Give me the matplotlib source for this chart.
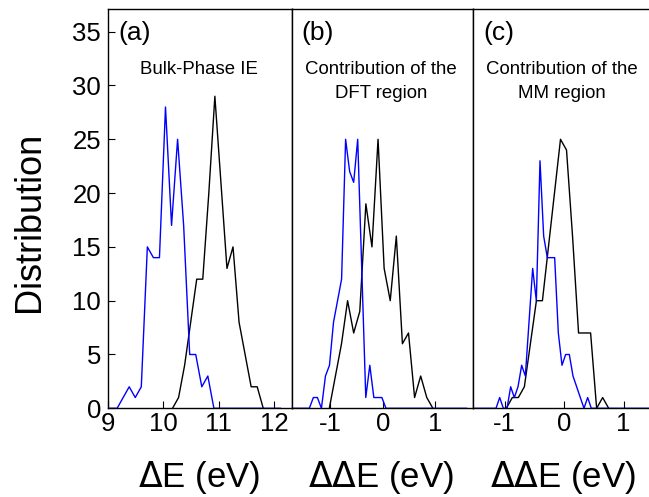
import numpy as np
import matplotlib.pyplot as plt

plt.rcParams['font.family'] = ['Liberation Sans', 'DejaVu Sans']
plt.rcParams['axes.unicode_minus'] = False

# panel (a): bulk-phase IE, counts per bin (bin start, bin width, counts)
a_blue_start, a_blue_step = 8.946, 0.1093
a_blue = [0, 0, 0, 1, 2, 1, 2, 15, 14, 14, 28, 17, 25, 17, 5, 5, 2, 3, 0,
          0, 0, 0, 0, 0, 0, 0, 0, 0, 0, 0]
a_black_start, a_black_step = 10.166, 0.1093
a_black = [0, 1, 4, 8, 12, 12, 20, 29, 21, 13, 15, 8, 5, 2, 2, 0]

# panel (b): contribution of the DFT region
b_blue_start, b_blue_step = -1.782, 0.0768
b_blue = [0, 0, 0, 0, 0, 0, 1, 1, 0, 3, 4, 8, 10, 12, 25, 22, 21, 25, 13, 1, 4, 1, 1, 1, 0,
          0, 0, 0, 0, 0, 0, 0, 0, 0, 0, 0, 0, 0, 0, 0, 0, 0, 0, 0, 0]
b_black_start, b_black_step = -1.017, 0.116
b_black = [0, 3, 6, 10, 7, 9, 19, 15, 25, 13, 10, 16, 6, 7, 1, 3, 1, 0]

# panel (c): contribution of the MM region
c_blue_start, c_blue_step = -1.574, 0.0616
c_blue = [0, 0, 0, 0, 0, 0, 0,
          0, 1, 0, 0, 2, 1, 2, 4, 3, 8, 13, 10, 23, 16, 14, 14, 14, 7, 4, 5, 5, 3, 2, 1, 0, 1, 0,
          0, 0, 0, 0, 0, 0, 0, 0, 0, 0, 0, 0, 0, 0, 0, 0, 0]
c_black_start, c_black_step = -0.970, 0.1012
c_black = [0, 1, 1, 2, 6, 10, 10, 15, 20, 25, 24, 16, 7, 7, 7, 0, 1, 0]

panel_tags = ['(a)', '(b)', '(c)']
panel_titles = [['Bulk-Phase IE'],
                ['Contribution of the', 'DFT region'],
                ['Contribution of the', 'MM region']]
xlabels = ['$\\Delta$E (eV)', '$\\Delta\\Delta$E (eV)', '$\\Delta\\Delta$E (eV)']

W, H = 649, 497
fig = plt.figure(figsize=(W / 100, H / 100), dpi=100)

def px_axes(x0, x1, y0=9.3, y1=408.3):
    return fig.add_axes([x0 / W, 1 - y1 / H, (x1 - x0) / W, (y1 - y0) / H])

axa = px_axes(108, 292)
axb = px_axes(292, 472.5)
axc = px_axes(472.5, 650)

series = [
    (axa, a_blue_start, a_blue_step, a_blue, a_black_start, a_black_step, a_black),
    (axb, b_blue_start, b_blue_step, b_blue, b_black_start, b_black_step, b_black),
    (axc, c_blue_start, c_blue_step, c_blue, c_black_start, c_black_step, c_black),
]
for ax, bs, bd, bv, ks, kd, kv in series:
    xk = ks + kd * np.arange(len(kv))
    xb = bs + bd * np.arange(len(bv))
    ax.plot(xk, kv, color='black', lw=1.0)
    ax.plot(xb, bv, color='#0000ff', lw=1.0)
    ax.set_ylim(0, 37.08)
    ax.tick_params(direction='in', length=5, width=0.8, labelsize=18.5, pad=3)
    for s in ax.spines.values():
        s.set_linewidth(1.0)

axa.set_xlim(9.01, 12.325)
axa.set_xticks([9, 10, 11, 12])
axa.set_yticks(range(0, 36, 5))
axa.tick_params(axis='y', pad=5)

axb.set_xlim(-1.728, 1.71)
axb.set_xticks([-1, 0, 1])
axb.set_yticks([])

axc.set_xlim(-1.538, 1.445)
axc.set_xticks([-1, 0, 1])
axc.set_yticks([])

# panel letters and titles
tag_x = [118, 301, 483]
title_x = [199, 381, 562]
for i in range(3):
    fig.text(tag_x[i] / W, 1 - 33 / H, panel_tags[i], fontsize=19, ha='left', va='center')
    for j, line in enumerate(panel_titles[i]):
        fig.text(title_x[i] / W, 1 - (69 + 24 * j) / H, line, fontsize=13.4,
                 ha='center', va='center')

# axis labels
fig.text(30 / W, 1 - 222 / H, 'Distribution', fontsize=26, rotation=90, ha='center', va='center')
label_x = [199, 381, 563]
for i in range(3):
    fig.text(label_x[i] / W, 1 - 477 / H, xlabels[i], fontsize=25, ha='center', va='center')

plt.savefig('out.png', dpi=100)
